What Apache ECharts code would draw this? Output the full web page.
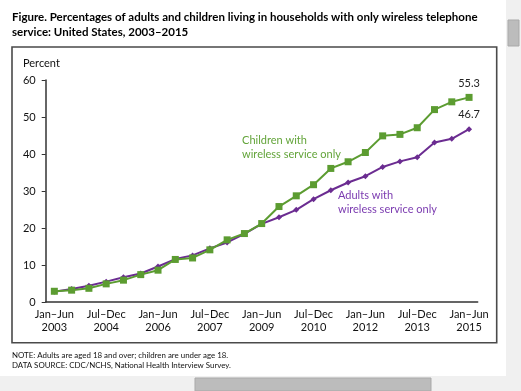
<!DOCTYPE html>
<html><head><meta charset="utf-8">
<script src="https://cdn.jsdelivr.net/npm/echarts@6/dist/echarts.min.js"></script>
<style>html,body{margin:0;padding:0;background:#fff}#c{width:521px;height:391px}</style>
</head><body><div id="c"></div><script>
const categories = ["Jan–Jun\n2003","Jul–Dec\n2003","Jan–Jun\n2004","Jul–Dec\n2004","Jan–Jun\n2005","Jul–Dec\n2005","Jan–Jun\n2006","Jul–Dec\n2006","Jan–Jun\n2007","Jul–Dec\n2007","Jan–Jun\n2008","Jul–Dec\n2008","Jan–Jun\n2009","Jul–Dec\n2009","Jan–Jun\n2010","Jul–Dec\n2010","Jan–Jun\n2011","Jul–Dec\n2011","Jan–Jun\n2012","Jul–Dec\n2012","Jan–Jun\n2013","Jul–Dec\n2013","Jan–Jun\n2014","Jul–Dec\n2014","Jan–Jun\n2015"];
const adults = [2.8,3.5,4.4,5.5,6.7,7.7,9.6,11.6,12.6,14.5,16.1,18.4,21.1,22.9,24.9,27.8,30.2,32.3,34.0,36.5,38.0,39.1,43.1,44.1,46.7];
const children = [2.9,3.2,3.7,4.9,5.9,7.4,8.6,11.5,11.9,14.1,16.8,18.5,21.2,25.8,28.7,31.7,36.1,37.9,40.4,44.9,45.3,47.1,52.0,54.1,55.3];
const yTicks = [0,10,20,30,40,50,60];

const FONT = 'Lato';
const GREEN = '#5c9c31', PURPLE = '#6b2c91';
function withLastLabel(arr){
  return arr.map((v,i)=> i===arr.length-1 ? {value:v,label:{show:true}} : v);
}
const chart = echarts.init(document.getElementById('c'), null, {renderer:'canvas'});
chart.setOption({
  backgroundColor:'#fff',
  animation:false,
  textStyle:{fontFamily:FONT},
  grid:{left:45.7, right:43.3, top:80, bottom:89, containLabel:false},
  xAxis:{type:'category', data:categories, boundaryGap:true,
    axisLine:{lineStyle:{color:'#333', width:1.5}},
    axisTick:{alignWithLabel:true, inside:true, length:3, interval:0, lineStyle:{color:'#333'}},
    axisLabel:{interval:2, color:'#111', fontSize:11, lineHeight:13, margin:6, fontFamily:FONT},
    splitLine:{show:false}},
  yAxis:{type:'value', min:yTicks[0], max:yTicks[yTicks.length-1], interval:10,
    axisLine:{show:true, lineStyle:{color:'#333', width:1.5}},
    axisTick:{show:true, length:4, lineStyle:{color:'#333'}},
    axisLabel:{color:'#111', fontSize:11, margin:10, fontFamily:FONT},
    splitLine:{show:false}},
  series:[
    {name:'Adults', type:'line', data:withLastLabel(adults), symbol:'diamond', symbolSize:6,
     itemStyle:{color:PURPLE}, lineStyle:{color:PURPLE, width:2},
     label:{show:false, position:'top', distance:6, color:'#222', fontSize:11, fontFamily:FONT}},
    {name:'Children', type:'line', data:withLastLabel(children), symbol:'rect', symbolSize:7,
     itemStyle:{color:GREEN}, lineStyle:{color:GREEN, width:2},
     label:{show:false, position:'top', distance:5, color:'#222', fontSize:11, fontFamily:FONT}}
  ],
  graphic:[
    {type:'rect', z:-10, shape:{x:506,y:0,width:15,height:391}, style:{fill:'#f0f0f0'}},
    {type:'rect', z:-10, shape:{x:0,y:376,width:521,height:15}, style:{fill:'#f0f0f0'}},
    {type:'rect', z:-9, shape:{x:508,y:20,width:11,height:26}, style:{fill:'#bcbcbc', stroke:'#a9a9a9', lineWidth:1}},
    {type:'rect', z:-9, shape:{x:195,y:378,width:236,height:13}, style:{fill:'#bcbcbc', stroke:'#a9a9a9', lineWidth:1}},
    {type:'rect', z:-8, shape:{x:12,y:47,width:484.7,height:295.7}, style:{fill:'none', stroke:'#4a4a4a', lineWidth:1.6}},
    {type:'text', left:12, top:10, style:{text:'Figure. Percentages of adults and children living in households with only wireless telephone\nservice: United States, 2003–2015', font:'bold 11.5px '+FONT, fill:'#000', lineHeight:15}},
    {type:'text', left:23, top:58, style:{text:'Percent', font:'11px '+FONT, fill:'#111'}},
    {type:'text', right:180, top:134, style:{text:'Children with\nwireless service only', font:'11px '+FONT, fill:'#63a43a', lineHeight:13.5, align:'right'}},
    {type:'text', left:338, top:188, style:{text:'Adults with\nwireless service only', font:'11px '+FONT, fill:'#7b3bb0', lineHeight:14, align:'left'}},
    {type:'text', left:12, top:350, style:{text:'NOTE: Adults are aged 18 and over; children are under age 18.\nDATA SOURCE: CDC/NCHS, National Health Interview Survey.', font:'7.9px '+FONT, fill:'#111', lineHeight:10}}
  ]
});
</script></body></html>
